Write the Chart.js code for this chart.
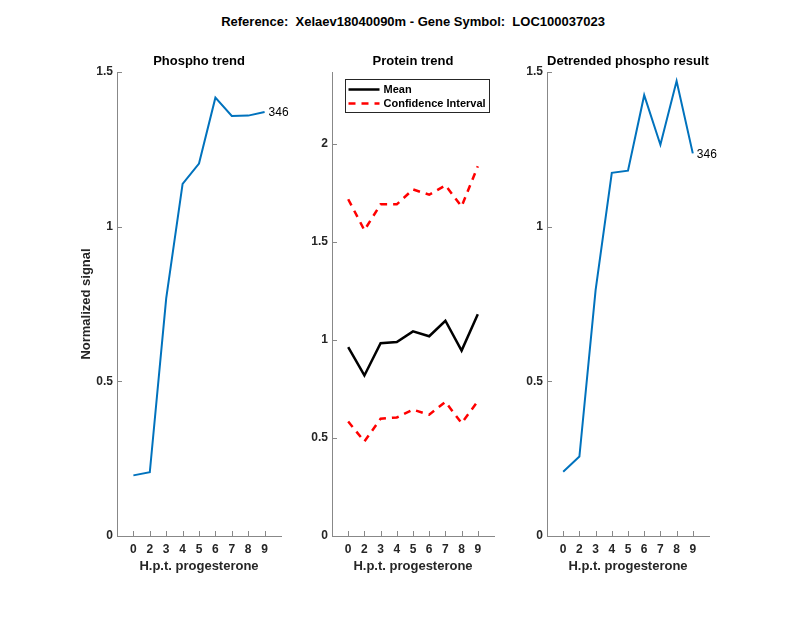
<!DOCTYPE html>
<html>
<head>
<meta charset="utf-8">
<script src="https://cdn.jsdelivr.net/npm/chart.js@4/dist/chart.umd.min.js"></script>
<style>
    body { margin: 0; background: #fff; }
    #wrap { position: relative; width: 800px; height: 618px; font-family: "Liberation Sans", Arial, sans-serif; }
    canvas { position: absolute; top: 0; }
    #suptitle { position: absolute; left: 213px; width: 400px; top: 14px; text-align: center;
                font: bold 13px "Liberation Sans", Arial, sans-serif; color: #000; white-space: nowrap; }
</style>
</head>
<body>
<div id="wrap">
    <div id="suptitle">Reference:&nbsp; Xelaev18040090m - Gene Symbol:&nbsp; LOC100037023</div>
    <canvas id="phosphoChart" width="300" height="618" style="left:0px"></canvas>
    <canvas id="proteinChart" width="210" height="618" style="left:300px"></canvas>
    <canvas id="detrendChart" width="250" height="618" style="left:510px"></canvas>
</div>
<script>
/* データ */
const times = [0, 2, 3, 4, 5, 6, 7, 8, 9];
const phospho = [0.196, 0.206, 0.768, 1.138, 1.204, 1.417, 1.358, 1.359, 1.371];
const proteinMean = [0.963, 0.819, 0.983, 0.990, 1.044, 1.019, 1.098, 0.946, 1.131];
const ciUpper = [1.718, 1.560, 1.692, 1.692, 1.768, 1.741, 1.789, 1.681, 1.886];
const ciLower = [0.584, 0.482, 0.598, 0.605, 0.644, 0.619, 0.684, 0.576, 0.687];
const detrended = [0.208, 0.257, 0.795, 1.174, 1.181, 1.425, 1.265, 1.471, 1.237];
const peptideId = '346';
const phosphoTicks = [0, 0.5, 1, 1.5];
const proteinTicks = [0, 0.5, 1, 1.5, 2];

const FONT = '"Liberation Sans", Arial, sans-serif';
const AXIS_COLOR = '#888888';
const TEXT_COLOR = '#262626';
const BLUE = '#0072BD';

// x は 1..9 の位置に置き、ラベルは times を表示
function toPoints(vals) {
    return vals.map((v, i) => ({ x: i + 1, y: v }));
}

// MATLAB風の内向き目盛り
const innerTicks = {
    id: 'innerTicks',
    afterDraw(chart) {
        const ctx = chart.ctx;
        const { x, y } = chart.scales;
        ctx.save();
        ctx.strokeStyle = AXIS_COLOR;
        ctx.lineWidth = 1;
        ctx.beginPath();
        x.ticks.forEach(t => {
            const px = Math.round(x.getPixelForValue(t.value)) + 0.5;
            ctx.moveTo(px, y.bottom);
            ctx.lineTo(px, y.bottom - 5);
        });
        y.ticks.forEach(t => {
            const py = Math.round(y.getPixelForValue(t.value)) + 0.5;
            ctx.moveTo(x.left, py);
            ctx.lineTo(x.left + 5, py);
        });
        ctx.stroke();
        ctx.restore();
    }
};

// 各パネルのタイトル（プロット領域の中央）
const panelTitle = {
    id: 'panelTitle',
    afterDraw(chart, args, opts) {
        const ca = chart.chartArea;
        const ctx = chart.ctx;
        ctx.save();
        ctx.font = 'bold 13px ' + FONT;
        ctx.fillStyle = '#000';
        ctx.textAlign = 'center';
        ctx.textBaseline = 'middle';
        ctx.fillText(opts.text, (ca.left + ca.right) / 2, ca.top - 11);
        ctx.restore();
    }
};

// 最終点の横にペプチドIDを表示
const endLabel = {
    id: 'endLabel',
    afterDraw(chart, args, opts) {
        if (!opts.text) return;
        const ds = chart.data.datasets[0].data;
        const last = ds[ds.length - 1];
        const px = chart.scales.x.getPixelForValue(last.x);
        const py = chart.scales.y.getPixelForValue(last.y);
        const ctx = chart.ctx;
        ctx.save();
        ctx.font = '12px ' + FONT;
        ctx.fillStyle = '#000';
        ctx.textAlign = 'left';
        ctx.textBaseline = 'middle';
        ctx.fillText(opts.text, px + 4, py + 1);
        ctx.restore();
    }
};

// 枠付きの凡例（チャート内、左上）
const boxLegend = {
    id: 'boxLegend',
    afterDraw(chart, args, opts) {
        if (!opts.show) return;
        const ctx = chart.ctx;
        const ca = chart.chartArea;
        const items = chart.data.datasets.filter(d => !d.hideInLegend);
        const bx = Math.round(ca.left + 13) + 0.5, by = Math.round(ca.top + 7) + 0.5;
        const bw = 144, bh = 33;
        ctx.save();
        ctx.fillStyle = '#fff';
        ctx.fillRect(bx, by, bw, bh);
        ctx.strokeStyle = TEXT_COLOR;
        ctx.lineWidth = 1;
        ctx.strokeRect(bx, by, bw, bh);
        ctx.font = 'bold 11px ' + FONT;
        ctx.textBaseline = 'middle';
        items.forEach((d, i) => {
            const ly = by + 10 + i * 14;
            ctx.strokeStyle = d.borderColor;
            ctx.lineWidth = d.borderWidth;
            ctx.setLineDash(d.borderDash || []);
            ctx.beginPath();
            ctx.moveTo(bx + 3, ly);
            ctx.lineTo(bx + 34, ly);
            ctx.stroke();
            ctx.setLineDash([]);
            ctx.fillStyle = '#000';
            ctx.fillText(d.label, bx + 38, ly);
        });
        ctx.restore();
    }
};

function makePanel(id, cfg) {
    const ctx = document.getElementById(id);
    return new Chart(ctx.getContext('2d'), {
        type: 'line',
        data: { datasets: cfg.datasets },
        options: {
            responsive: false,
            animation: false,
            layout: { padding: cfg.padding },
            elements: { point: { radius: 0 }, line: { tension: 0 } },
            plugins: {
                legend: { display: false },
                tooltip: { enabled: false },
                panelTitle: { text: cfg.title },
                endLabel: { text: cfg.endText },
                boxLegend: { show: !!cfg.legend }
            },
            scales: {
                x: {
                    type: 'linear',
                    min: 0,
                    max: 10,
                    afterBuildTicks: s => { s.ticks = times.map((t, i) => ({ value: i + 1 })); },
                    afterFit: s => { s.height = 38; },
                    grid: { display: false, drawTicks: false },
                    border: { display: true, color: AXIS_COLOR, width: 1 },
                    ticks: {
                        padding: 6,
                        color: TEXT_COLOR,
                        font: { family: FONT, size: 12, weight: 'bold' },
                        maxRotation: 0,
                        callback: v => times[v - 1]
                    },
                    title: {
                        display: true,
                        text: 'H.p.t. progesterone',
                        color: TEXT_COLOR,
                        font: { family: FONT, size: 13, weight: 'bold' },
                        padding: 0
                    }
                },
                y: {
                    min: 0,
                    max: cfg.yMax,
                    afterBuildTicks: s => { s.ticks = cfg.yTicks.map(v => ({ value: v })); },
                    afterFit: s => { s.width = cfg.yWidth; },
                    grid: { display: false, drawTicks: false },
                    border: { display: true, color: AXIS_COLOR, width: 1 },
                    ticks: {
                        padding: 4,
                        color: TEXT_COLOR,
                        font: { family: FONT, size: 12, weight: 'bold' },
                        callback: v => String(v)
                    },
                    title: {
                        display: !!cfg.yTitle,
                        text: cfg.yTitle || '',
                        color: TEXT_COLOR,
                        font: { family: FONT, size: 13, weight: 'bold' },
                        padding: 0
                    }
                }
            }
        },
        plugins: [innerTicks, panelTitle, endLabel, boxLegend]
    });
}

makePanel('phosphoChart', {
    title: 'Phospho trend',
    yTitle: 'Normalized signal',
    yMax: 1.5,
    yTicks: phosphoTicks,
    yWidth: 38,
    padding: { left: 79, right: 19, top: 72, bottom: 44 },
    endText: peptideId,
    datasets: [{ data: toPoints(phospho), borderColor: BLUE, borderWidth: 2 }]
});

makePanel('proteinChart', {
    title: 'Protein trend',
    yMax: 2.367,
    yTicks: proteinTicks,
    yWidth: 32,
    padding: { left: 0, right: 16, top: 72, bottom: 44 },
    legend: true,
    datasets: [
        { label: 'Mean', data: toPoints(proteinMean), borderColor: '#000', borderWidth: 2.5 },
        { label: 'Confidence Interval', data: toPoints(ciUpper), borderColor: '#ff0000', borderWidth: 2.5, borderDash: [7, 6] },
        { label: 'Confidence Interval', data: toPoints(ciLower), borderColor: '#ff0000', borderWidth: 2.5, borderDash: [7, 6], hideInLegend: true }
    ]
});

makePanel('detrendChart', {
    title: 'Detrended phospho result',
    yMax: 1.5,
    yTicks: phosphoTicks,
    yWidth: 37,
    padding: { left: 0, right: 51, top: 72, bottom: 44 },
    endText: peptideId,
    datasets: [{ data: toPoints(detrended), borderColor: BLUE, borderWidth: 2 }]
});
</script>
</body>
</html>
